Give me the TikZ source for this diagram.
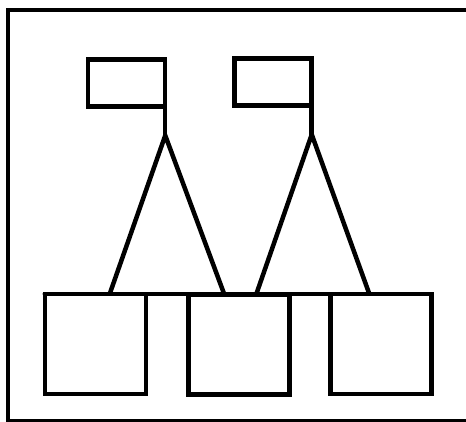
\documentclass[tikz,border=0pt]{standalone}
\usetikzlibrary{positioning,calc}

\begin{document}
\begin{tikzpicture}[
  x=0.02cm, y=-0.02cm,
  line join=miter,
  box/.style={
    draw,
    line width=0.09cm,
    inner sep=0pt,
    outer sep=0pt
  },
  flagbox/.style={box, minimum width=1.55cm, minimum height=0.94cm},
  unitbox/.style={box, minimum width=2.03cm, minimum height=2.01cm},
  link/.style={line width=0.09cm, line cap=round},
  frame/.style={draw, line width=0.08cm}
]
\useasboundingbox (0,0) rectangle (466,422);

% ========== Outer frame (cut off on the right) ==========
\draw[frame] (470,10) -- (8,10) -- (8,421) -- (470,421);

% ========== Flags ==========
\node[flagbox] (flag-a) at (126.5,83) {};
\node[flagbox] (flag-b) at (273,82) {};

\coordinate (apex-a) at ($(flag-a.south east)+(0,29)$);
\coordinate (apex-b) at ($(flag-b.south east)+(0,29)$);

% ========== Bottom units ==========
\node[unitbox] (unit-a) at (95.5,344) {};
\node[unitbox] (unit-b) at (239,344.5) {};
\node[unitbox] (unit-c) at (381,344) {};

% common top bar
\draw[link] (unit-a.north west) -- (unit-c.north east);

% feet of the legs on the bar
\coordinate (foot-a1) at ($(unit-a.north west)+(65,0)$);
\coordinate (foot-a2) at ($(unit-b.north west)+(36,0)$);
\coordinate (foot-b1) at ($(unit-b.north west)+(68,0)$);
\coordinate (foot-b2) at ($(unit-c.north west)+(39,0)$);

% ========== Poles and legs ==========
\draw[link] (flag-a.north east) -- (apex-a);
\draw[link] (flag-b.north east) -- (apex-b);
\draw[link] (foot-a1) -- (apex-a) -- (foot-a2);
\draw[link] (foot-b1) -- (apex-b) -- (foot-b2);

\end{tikzpicture}
\end{document}
